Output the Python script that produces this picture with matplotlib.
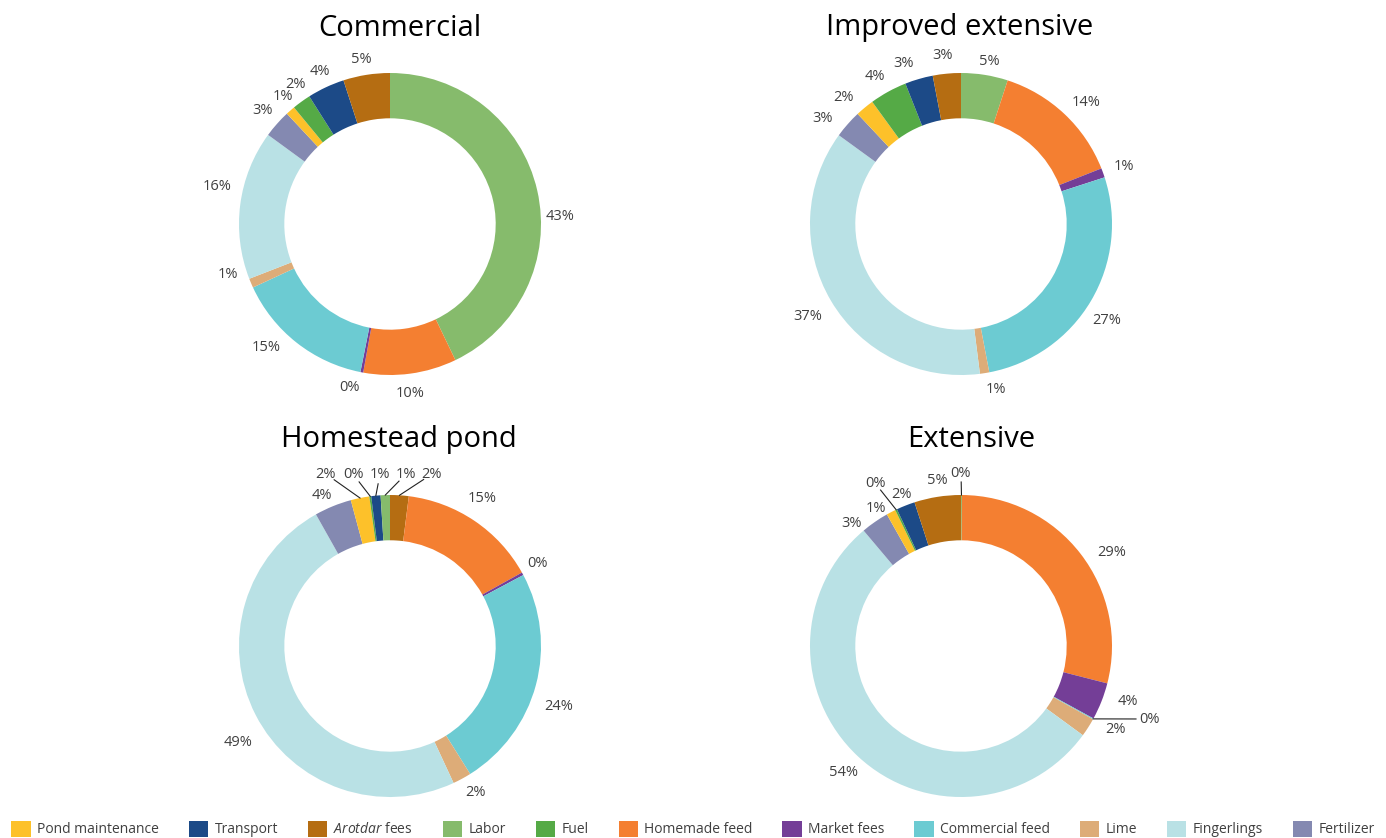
import numpy as np
import matplotlib.pyplot as plt
from matplotlib.patches import Patch

plt.rcParams['font.family'] = ['Open Sans', 'DejaVu Sans']
plt.rcParams['mathtext.fontset'] = 'custom'
plt.rcParams['mathtext.it'] = 'Open Sans:italic'
plt.rcParams['mathtext.rm'] = 'Open Sans'

# cost categories, legend order
categories = ['Pond maintenance', 'Transport', r'$\it{Arotdar}$ fees', 'Labor', 'Fuel',
              'Homemade feed', 'Market fees', 'Commercial feed', 'Lime', 'Fingerlings', 'Fertilizer']
colors = ['#FDC12A', '#1C4A87', '#B56D12', '#86BB6C', '#55AA46',
          '#F47F31', '#743E97', '#6CCBD2', '#DDAC78', '#B9E1E5', '#8489B1']

# share of total cost (%), same order as categories
commercial = [1, 4, 5, 43, 2, 10, 0.3, 15, 1, 16, 3]
improved_extensive = [2, 3, 3, 5, 4, 14, 1, 27, 1, 37, 3]
homestead_pond = [2, 1, 2, 1, 0.2, 15, 0.3, 24, 2, 49, 4]
extensive = [1, 2, 5, 0.1, 0.2, 29, 4, 0.1, 2, 54, 3]

# clockwise drawing order from 12 o'clock (indices into categories)
order_std = [3, 5, 6, 7, 8, 9, 10, 0, 4, 1, 2]
order_home = [2, 5, 6, 7, 8, 9, 10, 0, 4, 1, 3]

W, H = 1386, 838
R = 151      # outer radius in px
HALF = 200   # half size of each pie axes in px

# (title, values, order, centre px, title px, label offsets px, leader lines {slice: gap px})
charts = [
    ('Commercial', commercial, order_std, (390, 224), (400, 28),
     [(170, -7), (20, 170), (-41, 164), (-124, 124), (-162, 51), (-173, -38),
      (-127, -114), (-107, -128), (-95, -140), (-70, -153), (-29, -165)], {}),
    ('Improved extensive', improved_extensive, order_std, (961, 224), (960, 27),
     [(28, -163), (125, -121), (163, -58), (146, 96), (35, 166), (-153, 93),
      (-138, -106), (-118, -127), (-86, -148), (-57, -161), (-18, -169)], {}),
    ('Homestead pond', homestead_pond, order_home, (390, 646), (399, 439),
     [(42, -172), (92, -148), (148, -83), (169, 60), (86, 147), (-152, 96),
      (-68, -151), (-64, -172), (-37, -172), (-10, -172), (16, -172)],
     {0: 10, 7: 10, 8: 10, 9: 10, 10: 10}),
    ('Extensive', extensive, order_std, (961, 646), (971, 439),
     [(0, -173), (151, -94), (167, 55), (189, 73), (155, 83), (-118, 127),
      (-109, -123), (-85, -138), (-86, -163), (-59, -152), (-24, -166)],
     {0: 9, 3: 14, 8: 9}),
]

fig = plt.figure(figsize=(W / 100, H / 100), dpi=100)

for title, values, order, (cx, cy), (tx, ty), offsets, leaders in charts:
    ax = fig.add_axes([(cx - HALF) / W, 1 - (cy + HALF) / H, 2 * HALF / W, 2 * HALF / H])
    vals = [values[i] for i in order]
    cols = [colors[i] for i in order]
    wedges, _ = ax.pie(vals, colors=cols, startangle=90, counterclock=False, radius=1,
                       wedgeprops=dict(width=0.3, edgecolor='none'))
    lim = HALF / R
    ax.set_xlim(-lim, lim)
    ax.set_ylim(-lim, lim)
    ax.set_aspect('equal')
    ax.axis('off')

    total = sum(vals)
    pct = [v / total * 100 for v in vals]
    cum = np.cumsum([0] + pct)
    for k, (dx, dy) in enumerate(offsets):
        lx, ly = dx / R, -dy / R
        ax.text(lx, ly, '{:.0f}%'.format(vals[k]), ha='center', va='center',
                fontsize=10.5, color='#404040')
        if k in leaders:
            mid = np.deg2rad(90 - (cum[k] + cum[k + 1]) / 2 * 3.6)
            ex, ey = np.cos(mid), np.sin(mid)
            v = np.array([ex - lx, ey - ly])
            v = v / np.linalg.norm(v)
            gap = leaders[k] / R
            ax.plot([lx + v[0] * gap, ex], [ly + v[1] * gap, ey], color='#222222', lw=0.8)

    fig.text(tx / W, 1 - ty / H, title, ha='center', va='center', fontsize=21, color='black')

handles = [Patch(facecolor=c, edgecolor='none') for c in colors]
fig.legend(handles, categories, loc='center', bbox_to_anchor=(0.5, 1 - 829 / H), ncol=11,
           frameon=False, fontsize=10, handlelength=1.4, handleheight=1.4,
           handletextpad=0.45, columnspacing=2.15, labelcolor='#404040')

fig.savefig('out.png', dpi=100)
